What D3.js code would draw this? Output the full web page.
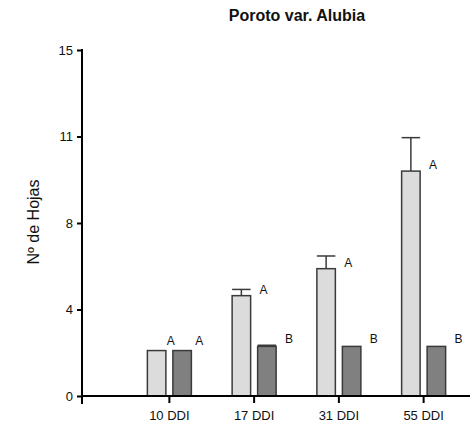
<!DOCTYPE html>
<html>
<head>
<meta charset="utf-8">
<script src="https://cdn.jsdelivr.net/npm/d3@7"></script>
<style>
  html, body { margin: 0; padding: 0; background: #fff; }
  svg { display: block; font-family: "Liberation Sans", Arial, sans-serif; }
</style>
</head>
<body>
<svg id="chart" width="472" height="425"></svg>
<script>
// ---- data ----
const categories = ["10 DDI", "17 DDI", "31 DDI", "55 DDI"];
const seriesNames = ["s1", "s2"];
const lightValues = [1.97, 4.35, 5.52, 9.75];
const lightErrors = [0, 0.27, 0.55, 1.45];
const darkValues  = [1.97, 2.15, 2.15, 2.15];
const darkErrors  = [0, 0.05, 0, 0];
const lightLetters = ["A", "A", "A", "A"];
const darkLetters  = ["A", "B", "B", "B"];
const yTickValues = [0, 3.75, 7.5, 11.25, 15];
const yTickLabels = ["0", "4", "8", "11", "15"];
const titleText = "Poroto var. Alubia";
const yLabelText = "Nº de Hojas";

// ---- layout ----
const svg = d3.select("#chart");
const y = d3.scaleLinear().domain([0, 15]).range([396, 50]);
const x = d3.scaleBand().domain(categories).range([127, 466]).padding(0);
const sub = d3.scaleBand().domain(seriesNames).range([0, 44]).paddingInner(0.275).paddingOuter(0);

const ink = "#111";
const barStroke = "#3a3a3a";

// title
svg.append("text")
  .attr("x", 297).attr("y", 21)
  .attr("text-anchor", "middle")
  .attr("font-size", 16).attr("font-weight", "bold")
  .attr("fill", "#111")
  .text(titleText);

// y label
svg.append("text")
  .attr("transform", "translate(39,222) rotate(-90)")
  .attr("text-anchor", "middle")
  .attr("font-size", 16)
  .attr("fill", ink)
  .text(yLabelText);

// bars
const rows = categories.map((c, i) => ({
  cat: c, i,
  items: [
    { key: "s1", v: lightValues[i], e: lightErrors[i], letter: lightLetters[i], fill: "#dcdcdc" },
    { key: "s2", v: darkValues[i], e: darkErrors[i], letter: darkLetters[i], fill: "#808080" }
  ]
}));

const g = svg.append("g");
rows.forEach(r => {
  const cx = x(r.cat) + x.bandwidth() / 2;
  const left = cx - 22;
  r.items.forEach(it => {
    const bx = left + sub(it.key);
    const bw = sub.bandwidth();
    g.append("rect")
      .attr("x", bx).attr("y", y(it.v))
      .attr("width", bw).attr("height", y(0) - y(it.v))
      .attr("fill", it.fill)
      .attr("stroke", barStroke).attr("stroke-width", 1.5);
    if (it.e > 0) {
      g.append("line")
        .attr("x1", bx + bw / 2).attr("x2", bx + bw / 2)
        .attr("y1", y(it.v)).attr("y2", y(it.v + it.e))
        .attr("stroke", barStroke).attr("stroke-width", 1.5);
      g.append("line")
        .attr("x1", bx).attr("x2", bx + bw)
        .attr("y1", y(it.v + it.e)).attr("y2", y(it.v + it.e))
        .attr("stroke", barStroke).attr("stroke-width", 1.5);
    }
    const off = r.i === 0 ? (it.key === "s1" ? 5 : 8) : 13;
    const dy = r.i === 0 ? 10 : (it.key === "s1" ? 6 : 7.5);
    g.append("text")
      .attr("x", bx + bw + off).attr("y", y(it.v) - dy)
      .attr("dy", "0.35em")
      .attr("text-anchor", "middle")
      .attr("font-size", 12)
      .attr("fill", ink)
      .text(it.letter);
  });
});

// y axis
const yAxis = d3.axisLeft(y)
  .tickValues(yTickValues)
  .tickFormat((d, i) => yTickLabels[i])
  .tickSize(5).tickPadding(4);
const ya = svg.append("g").attr("transform", "translate(82,0)").call(yAxis);
ya.select(".domain").remove();
ya.selectAll(".tick line").attr("stroke", "#000").attr("stroke-width", 2);
ya.selectAll(".tick text").attr("font-size", 13).attr("fill", ink)
  .attr("font-family", "Liberation Sans, Arial, sans-serif");
svg.append("line")
  .attr("x1", 82).attr("x2", 82)
  .attr("y1", y(15) - 1).attr("y2", 404)
  .attr("stroke", "#000").attr("stroke-width", 2);

// x axis
const xAxis = d3.axisBottom(x).tickSize(7).tickPadding(8);
const xa = svg.append("g").attr("transform", `translate(0,${y(0)})`).call(xAxis);
xa.select(".domain").remove();
xa.selectAll(".tick line").attr("stroke", "#000").attr("stroke-width", 2);
xa.selectAll(".tick text").attr("font-size", 13).attr("fill", ink)
  .attr("font-family", "Liberation Sans, Arial, sans-serif");
svg.append("line")
  .attr("x1", 81).attr("x2", 470)
  .attr("y1", y(0)).attr("y2", y(0))
  .attr("stroke", "#000").attr("stroke-width", 2);
</script>
</body>
</html>
